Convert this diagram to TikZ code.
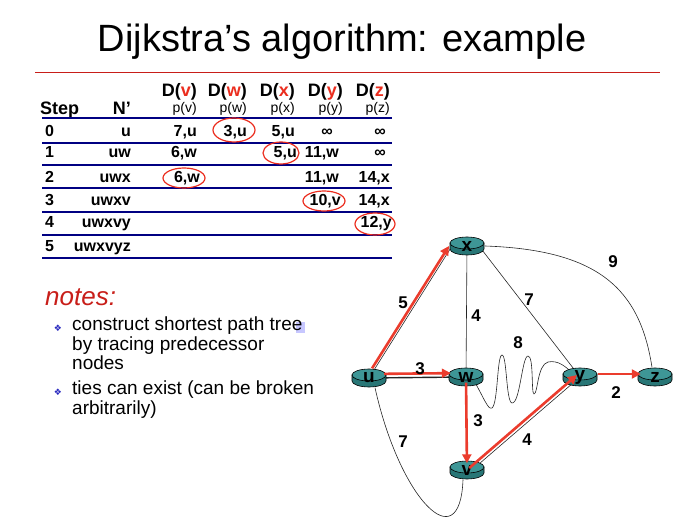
\documentclass[tikz,border=0pt]{standalone}
\usepackage{fontspec}
\setmainfont{Liberation Sans}
\newfontfamily\symfont{DejaVu Sans}
\usetikzlibrary{arrows.meta}
\definecolor{slidered}{RGB}{200,30,25}
\definecolor{hdred}{RGB}{235,45,30}
\definecolor{rulenavy}{RGB}{0,0,130}
\definecolor{treered}{RGB}{235,60,45}
\definecolor{routertop}{RGB}{62,150,150}
\definecolor{routerside}{RGB}{40,118,118}
\definecolor{bulletblue}{RGB}{40,40,190}
\newcommand{\px}[1]{\fontsize{#1}{#1}\selectfont}
\newcommand{\hd}[1]{D(\textcolor{hdred}{#1})}
\pgfdeclarelayer{edges}
\pgfsetlayers{edges,main}
\tikzset{
  head/.style={font=\px{18}\bfseries, anchor=base east, inner sep=0pt},
  pred/.style={font=\px{14}, anchor=base east, inner sep=0pt},
  cell/.style={font=\px{16}\bfseries, anchor=base east, inner sep=0pt},
  pick/.style={draw=hdred, line width=1.2pt},
  rowline/.style={draw=rulenavy, line width=1.2pt},
  boldline/.style={draw=rulenavy, line width=2.8pt},
  router/.style={minimum width=36pt, minimum height=19pt, inner sep=0pt,
    font=\px{19}\bfseries},
  disc/.style={draw=black, line width=0.6pt},
  link/.style={draw=black!85, line width=0.6pt},
  tree/.style={draw=treered, line width=2.6pt, -{Triangle[length=9pt,width=9pt]}},
  weight/.style={font=\px{17}\bfseries, inner sep=1pt},
}

\begin{document}
\begin{tikzpicture}[x=1pt,y=-1pt]
  \useasboundingbox (0,0) rectangle (689,532);

  % title
  \node (title) at (342,42) {\px{38}Dijkstra’s algorithm: example};
  \draw[slidered, line width=1pt] (35,73) -- (660,73);

  % table
  \node[head, anchor=base west] (step) at (40,115) {Step};
  \node[head] (nprime) at (131,115) {N\char39\relax};
  \foreach \c/\xx in {v/197,w/247,x/295,y/343,z/390} {
    \node[head] (D\c) at (\xx,97) {\hd{\c}};
    \node[pred] (p\c) at (\xx,113) {p(\c)};
  }
  \foreach \r/\yy/\set in {0/137/u,1/158/uw,2/183/uwx,3/206/uwxv,4/228/uwxvy,5/252/uwxvyz} {
    \node[cell, anchor=base west] (s\r) at (45,\yy) {\r};
    \node[cell] (n\r) at (131,\yy) {\set};
  }
  \node[cell] (c0v) at (197,137) {7,u};
  \node[cell] (c0w) at (247,137) {3,u};
  \node[cell] (c0x) at (295,137) {5,u};
  \node[cell] (c0y) at (333,137) {∞};
  \node[cell] (c0z) at (386,137) {∞};
  \node[cell] (c1v) at (197,158) {6,w};
  \node[cell] (c1x) at (297,158) {5,u};
  \node[cell] (c1y) at (339,158) {11,w};
  \node[cell] (c1z) at (386,158) {∞};
  \node[cell] (c2v) at (200,183) {6,w};
  \node[cell] (c2y) at (339,183) {11,w};
  \node[cell] (c2z) at (390,183) {14,x};
  \node[cell] (c3y) at (341,206) {10,v};
  \node[cell] (c3z) at (390,206) {14,x};
  \node[cell] (c4z) at (392,228) {12,y};

  \draw[boldline] (42,118) -- (392,118);
  \draw[rowline] (42,143) -- (392,143);
  \draw[boldline] (42,165) -- (392,165);
  \draw[rowline] (42,188) -- (392,188);
  \draw[rowline] (42,212) -- (392,212);
  \draw[rowline] (42,235) -- (392,235);
  \draw[boldline] (42,258) -- (392,258);

  \draw[pick] (234,130) ellipse[x radius=21pt, y radius=12pt];
  \draw[pick] (281,153) ellipse[x radius=18pt, y radius=11pt];
  \draw[pick] (184,178) ellipse[x radius=21pt, y radius=10pt];
  \draw[pick] (324,201) ellipse[x radius=21pt, y radius=10pt];
  \draw[pick] (375,224) ellipse[x radius=20pt, y radius=11pt];

  % notes
  \node[font=\px{26}\itshape, text=slidered, anchor=west, inner sep=0pt] (notes) at (45,297) {notes:};
  \fill[blue!22] (296,322) rectangle (305,333);
  \node[font=\symfont\px{9}, text=bulletblue] (b1) at (58,328) {❖};
  \node[font=\symfont\px{9}, text=bulletblue] (b2) at (58,392) {❖};
  \node[font=\fontsize{19}{19.5}\selectfont, align=left, anchor=north west, inner sep=0pt] (note1) at (72,317)
    {construct shortest path tree\\by tracing predecessor\\nodes};
  \node[font=\fontsize{19}{19.5}\selectfont, align=left, anchor=north west, inner sep=0pt] (note2) at (72,381)
    {ties can exist (can be broken\\arbitrarily)};

  % network
  \foreach \n/\xx/\yy in {u/369/378,w/466/377,x/467/246,y/580/377,z/655/377,v/467/470} {
    \filldraw[disc, fill=routerside] (\xx,\yy) ++(-17pt,3pt) -- ++(0pt,-6pt)
      arc[start angle=180, end angle=360, x radius=17pt, y radius=6pt] -- ++(0pt,6pt) -- cycle;
    \filldraw[disc, fill=routertop] (\xx,\yy) ++(0pt,3pt) ellipse[x radius=17pt, y radius=6pt];
    \node[router] (\n) at (\xx,\yy) {\n};
  }

  \begin{pgfonlayer}{edges}
    \draw[link] (u.center) -- ([xshift=-15pt]x.center);
    \draw[link, line width=1.4pt] (u.center) -- (w.center);
    \draw[link] (x.center) -- (w.center);
    \draw[link] ([xshift=12pt]x.center) -- (y.center);
    \draw[link] (x.east) .. controls (600,250) and (640,290) .. ([xshift=-3pt]z.north);
    \draw[link] ([xshift=5pt]v.center) -- (y.center);
    \draw[link] ([xshift=6pt]u.south) .. controls (400,500) and (460,560) .. ([xshift=-4pt]v.south);
    \draw[link] ([xshift=6pt]w.center) .. controls (485,400) and (488,410) .. (492,408)
      .. controls (498,404) and (497,355) .. (502,355)
      .. controls (507,355) and (506,402) .. (512,403)
      .. controls (520,404) and (522,356) .. (528,356)
      .. controls (534,356) and (531,394) .. (534,394)
      .. controls (538,394) and (537,365) .. (548,362)
      .. controls (558,360) and (566,366) .. ([xshift=-4pt]y.center);
  \end{pgfonlayer}

  \draw[tree, transform canvas={xshift=-3pt}] (u) -- ([xshift=-15pt]x.center);
  \draw[tree, transform canvas={yshift=4pt}, shorten <=-3pt, shorten >=-3pt] (u) -- (w);
  \draw[tree, shorten <=-4pt, shorten >=-3pt] (w) -- (v);
  \draw[tree, shorten <=3pt] (v.center) -- ([xshift=-3pt,yshift=2pt]y.center);
  \draw[tree, transform canvas={yshift=3pt}, shorten >=-4pt] (y) -- (z);

  \node[weight] (l5) at (403,303) {5};
  \node[weight] (l4a) at (476,316) {4};
  \node[weight] (l7a) at (529,300) {7};
  \node[weight] (l9) at (613,262) {9};
  \node[weight] (l8) at (518,343) {8};
  \node[weight] (l3a) at (420,369) {3};
  \node[weight] (l3b) at (478,421) {3};
  \node[weight] (l4b) at (527,440) {4};
  \node[weight] (l7b) at (403,442) {7};
  \node[weight] (l2) at (616,393) {2};
\end{tikzpicture}
\end{document}
